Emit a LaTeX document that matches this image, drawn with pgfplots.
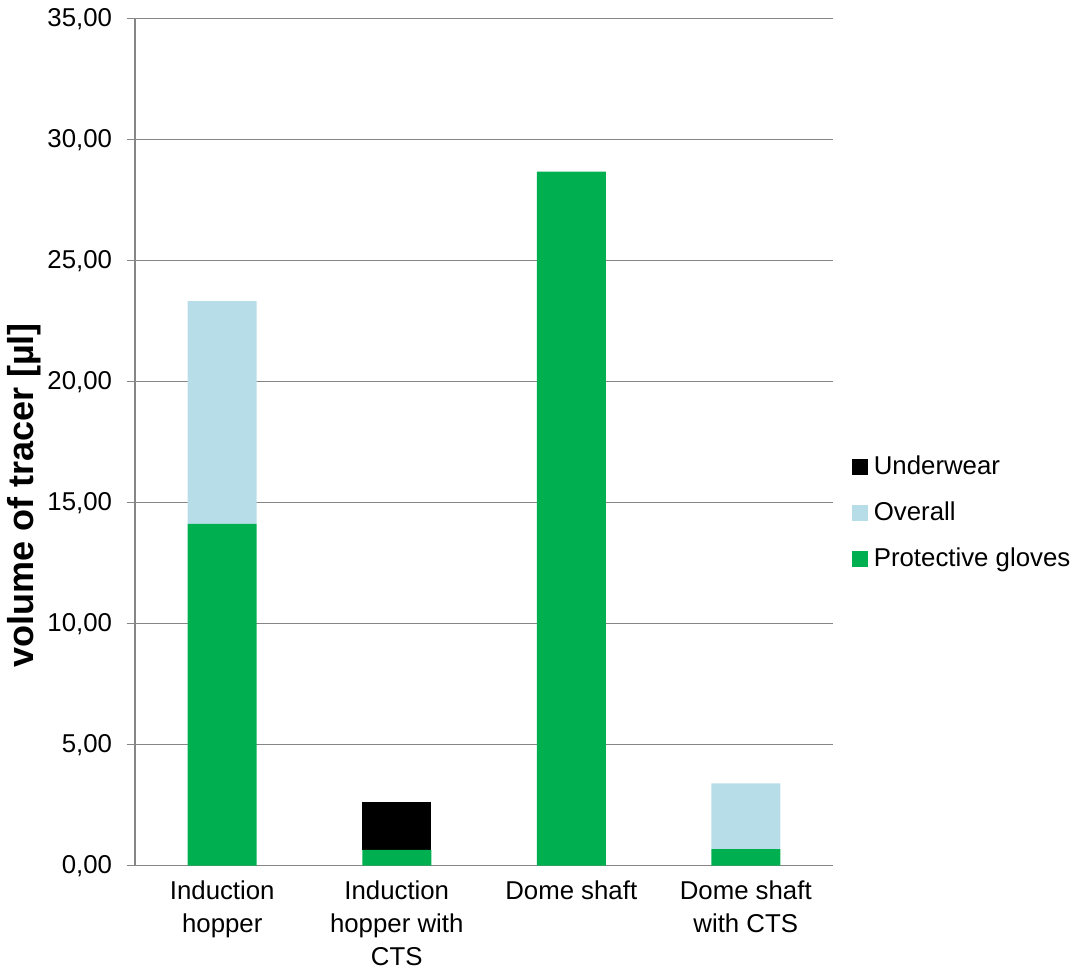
\documentclass[border=0pt]{standalone}
\usepackage{fontspec}
\setmainfont{Liberation Sans}
\usepackage{pgfplots}
\pgfplotsset{compat=1.18}
\definecolor{gloves}{HTML}{00B050}
\definecolor{overall}{HTML}{B7DEE8}
\definecolor{gridgray}{HTML}{868686}
\begin{document}
\fontsize{12.9}{15}\selectfont
\begin{tikzpicture}
\begin{axis}[
  at={(0,0)}, anchor=south west,
  scale only axis,
  width=349pt, height=423.5pt,
  ybar stacked,
  bar width=34.5pt,
  xmin=-0.5, xmax=3.5,
  ymin=0, ymax=35,
  ytick distance=5,
  xtick={0,1,2,3},
  xticklabels={{Induction\\hopper},{Induction\\hopper with\\CTS},{Dome shaft},{Dome shaft\\with CTS}},
  xticklabel style={align=center, font=\fontsize{12.9}{16.5}\selectfont, yshift=1pt},
  major x tick style={draw=none},
  extra x ticks={-0.5,0.5,1.5,2.5,3.5},
  extra x tick labels={},
  extra x tick style={grid=none, major tick length=4pt, tick style={draw=gridgray, line width=0.75pt}},
  ymajorgrids,
  grid style={draw=gridgray, line width=0.75pt},
  axis lines=left,
  axis line style={draw=gridgray, line width=0.75pt, -},
  tick align=outside,
  major tick length=4pt,
  tick style={draw=gridgray, line width=0.75pt},
  yticklabel style={font=\fontsize{12.9}{15}\selectfont, xshift=-3pt},
  /pgf/number format/.cd, fixed, fixed zerofill, precision=2, use comma, assume math mode=true,
  /pgfplots/.cd,
  ylabel={\textbf{volume of tracer [µl]}},
  ylabel style={font=\fontsize{18}{20}\selectfont, at={(axis description cs:-0.159,0.437)}, anchor=center},
  legend style={draw=none, fill=none, at={(1.027,0.4164)}, anchor=west, inner sep=0pt,
    font=\fontsize{12.9}{15}\selectfont,
    row sep=11pt,
    nodes={inner sep=0pt, text height=9.5pt, text depth=2.5pt}},
  legend cell align=left,
  reverse legend,
  legend image code/.code={\fill[#1] (0pt,-3.8pt) rectangle (7.8pt,3.8pt);},
  /tikz/every even column/.append style={column sep=0pt},
  /tikz/every odd column/.append style={column sep=3pt},
]
\addplot+[fill=gloves, draw=none] coordinates {(0,14.13) (1,0.65) (2,28.68) (3,0.68)};
\addlegendentry{Protective gloves}
\addplot+[fill=overall, draw=none] coordinates {(0,9.20) (1,0) (2,0) (3,2.72)};
\addlegendentry{Overall}
\addplot+[fill=black, draw=none] coordinates {(0,0) (1,1.98) (2,0) (3,0)};
\addlegendentry{Underwear}
\end{axis}
\pgfresetboundingbox
\path[use as bounding box] (-67.5pt,-51.65pt) rectangle (470.5pt,432.85pt);
\end{tikzpicture}
\end{document}
